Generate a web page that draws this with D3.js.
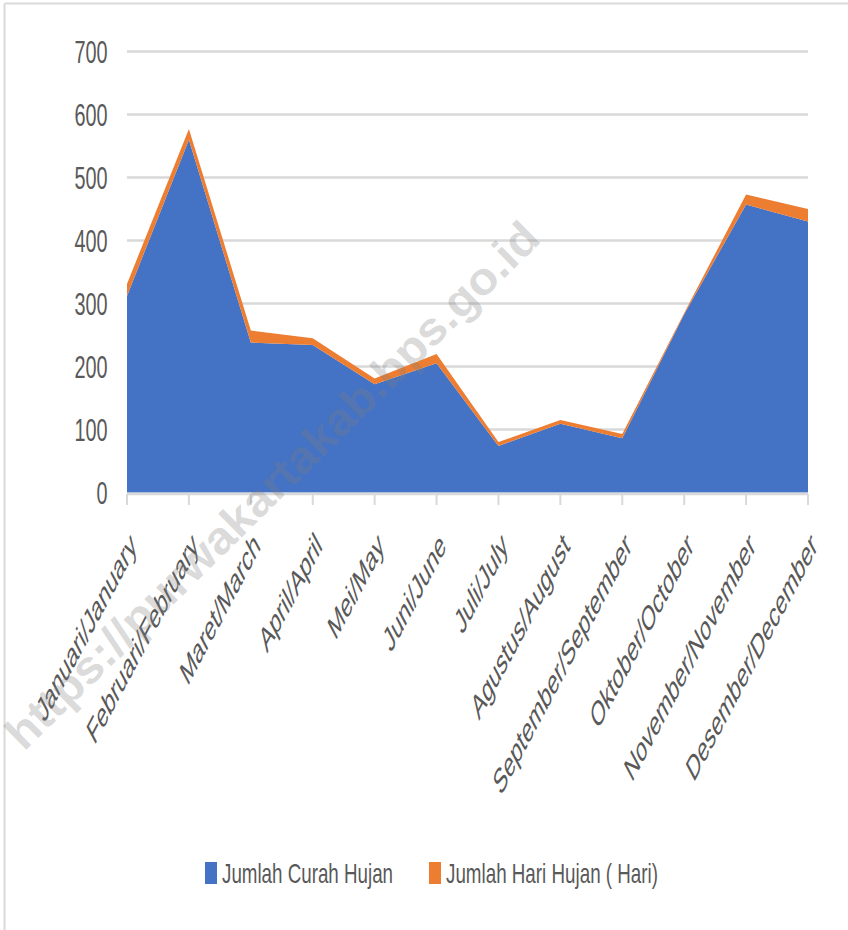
<!DOCTYPE html>
<html>
<head>
<meta charset="utf-8">
<script src="https://cdn.jsdelivr.net/npm/d3@7"></script>
<style>
  html, body { margin: 0; padding: 0; background: #fff; }
  svg { display: block; }
  text { font-family: "Liberation Sans", Arial, sans-serif; fill: #595959; }
</style>
</head>
<body>
<svg id="chart" width="848" height="930"></svg>
<script>
const months = ["Januari/January", "Februari/February", "Maret/March", "April/April", "Mei/May", "Juni/June",
                "Juli/July", "Agustus/August", "September/September", "Oktober/October", "November/November", "Desember/December"];
const curahHujan = [312, 560, 238, 234, 172, 205, 74, 109, 86, 283, 457, 430];
const hariHujan  = [19, 17, 19, 11, 9, 15, 6, 6, 7, 2, 16, 20];
const yTicks = [0, 100, 200, 300, 400, 500, 600, 700];
const seriesNames = ["Jumlah Curah Hujan", "Jumlah Hari Hujan ( Hari)"];
const colors = ["#4472C4", "#ED7D31"];
const watermark = "https://purwakartakab.bps.go.id";

const svg = d3.select("#chart");

// outer frame (top & left visible)
svg.append("line").attr("x1", 4.5).attr("x2", 848).attr("y1", 3.5).attr("y2", 3.5)
  .attr("stroke", "#d9d9d9").attr("stroke-width", 2);
svg.append("line").attr("x1", 4.5).attr("x2", 4.5).attr("y1", 3.5).attr("y2", 930)
  .attr("stroke", "#d9d9d9").attr("stroke-width", 2);

const x = d3.scalePoint().domain(months).range([127, 808]);
const y = d3.scaleLinear().domain([0, 700]).range([492.5, 51.5]);

// gridlines
svg.append("g").selectAll("line").data(yTicks.filter(d => d > 0)).join("line")
  .attr("x1", 127).attr("x2", 808)
  .attr("y1", d => y(d)).attr("y2", d => y(d))
  .attr("stroke", "#d9d9d9").attr("stroke-width", 2.5);

// stacked data
const table = months.map((m, i) => ({ month: m, a: curahHujan[i], b: hariHujan[i] }));
const stack = d3.stack().keys(["a", "b"])(table);

const area = d3.area()
  .x(d => x(d.data.month))
  .y0(d => y(d[0]))
  .y1(d => y(d[1]));

svg.append("g").selectAll("path").data(stack).join("path")
  .attr("d", area)
  .attr("fill", (d, i) => colors[i]);

// x axis line & ticks
svg.append("line").attr("x1", 127).attr("x2", 808).attr("y1", 494).attr("y2", 494)
  .attr("stroke", "#d9d9d9").attr("stroke-width", 2.5);
svg.append("g").selectAll("line").data(months).join("line")
  .attr("x1", d => x(d)).attr("x2", d => x(d))
  .attr("y1", 494).attr("y2", 505)
  .attr("stroke", "#d9d9d9").attr("stroke-width", 2);

// y tick labels
svg.append("g").selectAll("text").data(yTicks).join("text")
  .attr("transform", d => `translate(107.5, ${y(d)}) scale(0.62,1)`)
  .attr("text-anchor", "end")
  .attr("dy", "0.36em")
  .attr("font-size", 32)
  .text(d => d);

// x labels, rotated & horizontally squeezed
svg.append("g").selectAll("text").data(months).join("text")
  .attr("transform", d => `translate(${x(d) + 1}, 530) scale(0.53,1) rotate(-45)`)
  .attr("text-anchor", "end")
  .attr("dy", "0.72em")
  .attr("font-size", 35)
  .text(d => d);

// legend
const legendX = [205, 429];
const legendW = [171, 212];
const lg = svg.append("g");
seriesNames.forEach((name, i) => {
  lg.append("rect").attr("x", legendX[i]).attr("y", 862).attr("width", 12).attr("height", 22)
    .attr("fill", colors[i]);
  lg.append("text").attr("x", legendX[i] + 17).attr("y", 883)
    .attr("font-size", 28)
    .attr("textLength", legendW[i])
    .attr("lengthAdjust", "spacingAndGlyphs")
    .text(name);
});

// watermark
svg.append("text")
  .attr("transform", "translate(24, 752) rotate(-44.6)")
  .attr("font-size", 46)
  .attr("font-weight", "bold")
  .attr("textLength", 728)
  .attr("lengthAdjust", "spacingAndGlyphs")
  .style("fill", "rgb(128,128,128)")
  .style("fill-opacity", 0.3)
  .text(watermark);
</script>
</body>
</html>
